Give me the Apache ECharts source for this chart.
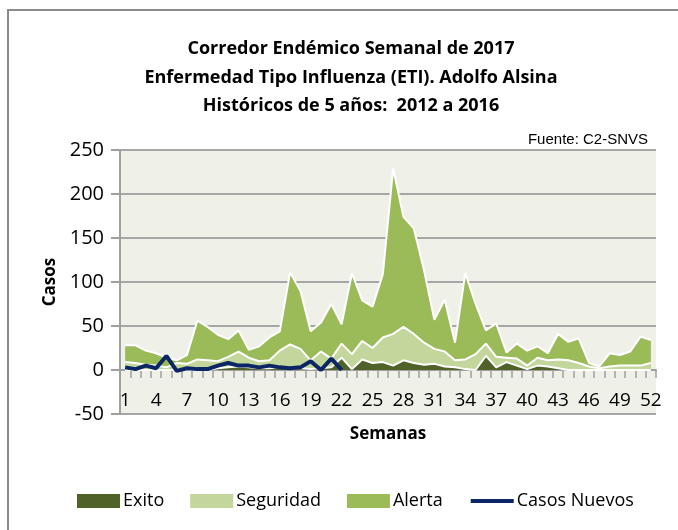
<!DOCTYPE html>
<html>
<head>
<meta charset="utf-8">
<script src="https://cdn.jsdelivr.net/npm/echarts@6/dist/echarts.min.js"></script>
<style>
  html, body { margin: 0; padding: 0; background: #fff; }
  #chart { width: 678px; height: 530px; }
</style>
</head>
<body>
<div id="chart"></div>
<script>
// semanas 1..52
const weeks = Array.from({ length: 52 }, (_, i) => String(i + 1));

// upper limit of each zone
const exito = [0, 0, 0, 0, 0, 0, 0, 0, 0, 2, 3, 4, 3, 2, 2, 3, 2, 2, 1, 2, 3, 14, 1, 12, 8, 9,
  5, 11, 8, 6, 7, 4, 3, 1, 0, 16, 3, 9, 5, 1, 5, 4, 2, 0, 0, 0, 0, 0, 0, 0, 0, 0];
const seguridad = [9, 8, 6, 5, 3, 8, 7, 12, 11, 10, 15, 21, 14, 10, 11, 22, 29, 24, 11, 21, 13, 30, 18, 33, 25, 37,
  41, 49, 41, 31, 24, 21, 11, 12, 18, 30, 15, 14, 13, 5, 14, 11, 12, 11, 8, 4, 2, 4, 5, 5, 5, 8];
const alerta = [28, 28, 22, 19, 14, 11, 17, 56, 49, 40, 35, 45, 23, 27, 37, 44, 111, 90, 44, 54, 75, 52, 110, 79, 72, 109,
  229, 174, 161, 113, 57, 80, 31, 110, 75, 45, 53, 20, 30, 22, 27, 19, 41, 32, 36, 8, 4, 19, 17, 21, 38, 34];
const casosNuevos = [3, 1, 5, 2, 16, -1, 2, 1, 1, 5, 8, 5, 5, 3, 5, 3, 2, 3, 10, 0, 13, 0];

const font = '"Open Sans", sans-serif';

const zone = (name, data, color) => ({
  name: name,
  type: 'line',
  data: data,
  symbol: 'none',
  itemStyle: { color: color },
  lineStyle: { color: '#ffffff', width: 2 },
  areaStyle: { color: color, opacity: 1 }
});

const chart = echarts.init(document.getElementById('chart'));
chart.setOption({
  animation: false,
  backgroundColor: '#ffffff',
  title: {
    text: 'Corredor Endémico Semanal de 2017\nEnfermedad Tipo Influenza (ETI). Adolfo Alsina\nHistóricos de 5 años:  2012 a 2016',
    left: 346,
    top: 30,
    textAlign: 'center',
    textStyle: { fontFamily: font, fontSize: 18, fontWeight: 'bold', color: '#000', lineHeight: 28.5 }
  },
  graphic: [
    {
      type: 'rect', silent: true,
      shape: { x: 8, y: 10, width: 700, height: 600 },
      style: { fill: 'none', stroke: '#8c8c8c', lineWidth: 2 }
    },
    {
      type: 'text', right: 30, top: 132,
      style: { text: 'Fuente: C2-SNVS', fontFamily: 'Liberation Sans, Arial, sans-serif', fontSize: 15, fill: '#000' }
    }
  ],
  legend: {
    left: 72,
    top: 487,
    itemWidth: 43,
    itemHeight: 14,
    itemGap: 26,
    textStyle: { fontFamily: font, fontSize: 18, color: '#000', padding: [0, 0, 0, -2] },
    data: [
      { name: 'Exito', icon: 'rect' },
      { name: 'Seguridad', icon: 'rect' },
      { name: 'Alerta', icon: 'rect' },
      { name: 'Casos Nuevos', itemStyle: { opacity: 0 }, lineStyle: { width: 4 } }
    ]
  },
  grid: {
    left: 120, right: 22, top: 150, bottom: 116,
    show: true, backgroundColor: '#eff1e9', borderWidth: 0
  },
  xAxis: [
    {
      type: 'category',
      data: weeks,
      boundaryGap: true,
      axisLine: { onZero: true, lineStyle: { color: '#a0a0a0', width: 2 } },
      axisTick: { show: true, interval: 0, length: 8, lineStyle: { color: '#a0a0a0', width: 1.5 } },
      axisLabel: { show: false }
    },
    {
      type: 'category',
      data: weeks,
      boundaryGap: true,
      position: 'bottom',
      name: 'Semanas',
      nameLocation: 'middle',
      nameGap: 12,
      nameTextStyle: { fontFamily: font, fontSize: 17, fontWeight: 'bold', color: '#000' },
      axisLine: { show: false, onZero: false },
      axisTick: { show: false },
      axisLabel: { inside: true, interval: 2, margin: 4, fontFamily: font, fontSize: 19, color: '#000' }
    }
  ],
  yAxis: {
    type: 'value',
    min: -50, max: 250, interval: 50,
    name: 'Casos',
    nameLocation: 'middle',
    nameGap: 55,
    nameRotate: 90,
    nameTextStyle: { fontFamily: font, fontSize: 17, fontWeight: 'bold', color: '#000' },
    axisLine: { show: true, lineStyle: { color: '#a0a0a0', width: 2 } },
    axisTick: { show: true, length: 9, lineStyle: { color: '#a0a0a0', width: 2 } },
    axisLabel: { margin: 16, fontFamily: font, fontSize: 20, color: '#000' },
    splitLine: { lineStyle: { color: '#a6a6a6', width: 2 } }
  },
  series: [
    zone('Alerta', alerta, '#9bbb59'),
    zone('Seguridad', seguridad, '#c3d69b'),
    zone('Exito', exito, '#4f6228'),
    {
      name: 'Casos Nuevos',
      type: 'line',
      data: casosNuevos,
      symbol: 'none',
      itemStyle: { color: '#0b2565' },
      lineStyle: { color: '#0b2565', width: 4 }
    }
  ]
});
</script>
</body>
</html>
